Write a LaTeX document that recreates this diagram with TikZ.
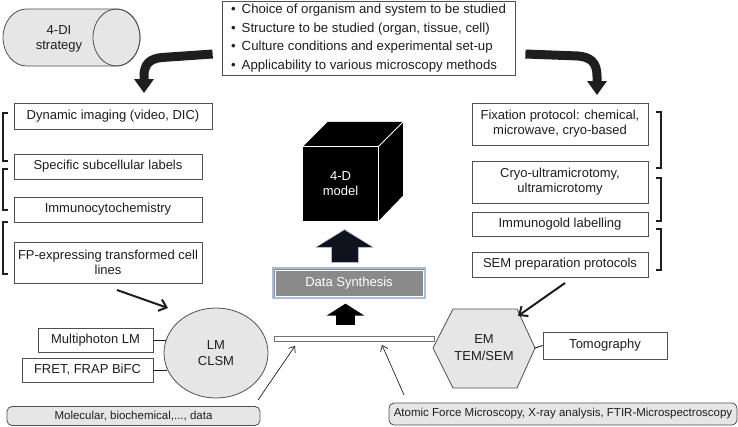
\documentclass[tikz,border=0pt]{standalone}
\usepackage{fontspec}
\setmainfont{Liberation Sans}
\usetikzlibrary{shapes.geometric,arrows.meta,calc}
\definecolor{edge}{HTML}{505050}
\definecolor{lgray}{HTML}{E6E6E6}
\definecolor{txt}{HTML}{1E1E1E}
\definecolor{dsfill}{HTML}{8A8A8A}
\definecolor{dsedge}{HTML}{A9BED6}
\definecolor{navy}{HTML}{10121E}
\begin{document}
\begin{tikzpicture}[x=1pt,y=-1pt,
  every node/.style={font=\fontsize{13}{15}\selectfont, text=txt, inner sep=0pt, align=center},
  box/.style={draw=edge, line width=0.8pt, fill=white, rectangle},
  rbox/.style={draw=edge, line width=0.8pt, fill=lgray, rounded corners=5pt, font=\fontsize{11.5}{14}\selectfont},
  brk/.style={draw=txt, line width=1.1pt},
  bigarrow/.style={draw=txt, line width=9pt, -{Triangle[width=19pt,length=14pt]}},
  medarrow/.style={draw=txt, line width=2pt, -{Straight Barb[length=7pt,width=12pt]}},
  thinarrow/.style={draw=txt, line width=0.7pt, -{Straight Barb[length=5pt,width=8pt]}},
  link/.style={draw=txt, line width=1pt}
]
\useasboundingbox (0,0) rectangle (738,426);

% cylinder "4-DI strategy"
\filldraw[fill=lgray, draw=edge, line width=0.8pt] (26.5,9) -- (116.5,9)
  .. controls (129.5,9) and (140,21.76) .. (140,37.5)
  .. controls (140,53.24) and (129.5,66) .. (116.5,66) -- (26.5,66)
  .. controls (13.52,66) and (3,53.24) .. (3,37.5)
  .. controls (3,21.76) and (13.52,9) .. (26.5,9) -- cycle;
\draw[edge, line width=0.8pt] (116.5,37.5) ellipse [x radius=23.5, y radius=28.5];
\node (strat) at (59,39) {4-DI\\strategy};

% top box
\node[box, minimum width=293pt, minimum height=74pt] (top) at (368.5,38)
  {\fontsize{13.2}{18.5}\selectfont\begin{tabular}{@{}l@{\hspace{6pt}}l@{}}
  \textbullet & Choice of organism and system to be studied\\
  \textbullet & Structure to be studied (organ, tissue, cell)\\
  \textbullet & Culture conditions and experimental set-up\\
  \textbullet & Applicability to various microscopy methods
  \end{tabular}};

% curved arrows
\draw[bigarrow] ([shift={(-9,16)}]top.west) -- (162,57.5)
  .. controls (150,58.5) and (144,64) .. (144,76) -- (144,93);
\draw[bigarrow] ([shift={(10,16)}]top.east) -- (578,56)
  .. controls (590,57) and (597,62) .. (597,76) -- (597,95);

% left column
\node[box, minimum width=198pt, minimum height=26pt] (dyn) at (113,116) {Dynamic imaging (video, DIC)};
\node[box, minimum width=188pt, minimum height=25pt] (spec) at (108,166.5) {Specific subcellular labels};
\node[box, minimum width=188pt, minimum height=25pt] (immu) at (108,209.5) {Immunocytochemistry};
\node[box, minimum width=188pt, minimum height=41pt] (fp) at (108,262.5) {FP-expressing transformed cell\\lines};
\draw[brk] (7.5,113) -- (3,113) -- (3,161) -- (7.5,161);
\draw[brk] (7.5,169) -- (3,169) -- (3,210) -- (7.5,210);
\draw[brk] (7.5,222) -- (3,222) -- (3,274) -- (7.5,274);

% right column
\node[box, minimum width=176pt, minimum height=42pt] (fix) at (560,124) {Fixation protocol: chemical,\\microwave, cryo-based};
\node[box, minimum width=176pt, minimum height=42pt] (cryo) at (560,182) {Cryo-ultramicrotomy,\\ultramicrotomy};
\node[box, minimum width=176pt, minimum height=24pt] (gold) at (560,224) {Immunogold labelling};
\node[box, minimum width=176pt, minimum height=25pt] (semp) at (560,264.5) {SEM preparation protocols};
\draw[brk] (656,112) -- (661,112) -- (661,168) -- (656,168);
\draw[brk] (656,178) -- (661,178) -- (661,221) -- (656,221);
\draw[brk] (656,229) -- (661,229) -- (661,270) -- (656,270);

% cube
\node[fill=black, text=white, minimum width=75pt, minimum height=74pt] (cube) at (340.5,184) {4-D\\model};
\fill[black] (cube.north west) -- ++(25,-25) -- ++(75,0) -- ++(0,74) -- (cube.south east) -- (cube.north east) -- cycle;
\draw[white, line width=0.8pt] (cube.north west) -- (cube.north east) -- (cube.south east);
\draw[white, line width=0.8pt] (cube.north east) -- ++(25,-25);

% data synthesis
\node[draw=dsedge, line width=1.2pt, fill=dsfill, text=white, minimum width=152pt, minimum height=30pt] (ds) at (349,283) {Data Synthesis};
\draw[white, line width=0.8pt] ([shift={(2.5,2.5)}]ds.north west) rectangle ([shift={(-2.5,-2.5)}]ds.south east);

% bar
\node[draw=edge!80, line width=0.7pt, fill=white, minimum width=160pt, minimum height=5pt] (bar) at (354,338.5) {};

% block arrows
\draw[draw=dsedge, line width=28pt, -{Triangle[width=58pt,length=18.5pt]}, shorten <=4pt, shorten >=7.8pt] ([xshift=-4.5pt]ds.north) -- ([xshift=-4.5pt]ds.north |- cube.south);
\draw[draw=navy, line width=26pt, -{Triangle[width=55pt,length=17pt]}, shorten <=5pt, shorten >=9pt] ([xshift=-4.5pt]ds.north) -- ([xshift=-4.5pt]ds.north |- cube.south);
\draw[draw=black, line width=19pt, -{Triangle[width=37pt,length=12pt]}, shorten <=11pt, shorten >=5pt] ([xshift=-3.5pt]ds.south |- bar.north) -- ([xshift=-3.5pt]ds.south);

% LM ellipse and its boxes
\node[ellipse, draw=edge, line width=0.8pt, fill=lgray, minimum width=104pt, minimum height=90pt, font=\fontsize{13}{16}\selectfont] (lm) at (216,353) {LM\\CLSM};
\node[box, minimum width=115pt, minimum height=24pt] (mp) at (95.5,340) {Multiphoton LM};
\node[box, minimum width=131pt, minimum height=24pt] (fret) at (87.5,370) {FRET, FRAP BiFC};
\draw[link] (mp.east) -- (mp.east -| lm.165);
\draw[link] (fret.east) -- (fret.east -| lm.198);

% EM hexagon
\filldraw[fill=lgray, draw=edge, line width=0.8pt] (433,348) -- (453,309) -- (517,309) -- (535,348) -- (517,388) -- (453,388) -- cycle;
\node[font=\fontsize{13}{17}\selectfont] (em) at (484,348) {EM\\TEM/SEM};
\coordinate (emr) at (535,348);
\node[box, minimum width=124pt, minimum height=27pt] (tomo) at (605,345.5) {Tomography};
\draw[link] (emr) -- (tomo.west);

% bottom boxes
\node[rbox, minimum width=253pt, minimum height=19pt] (mol) at (133.5,416) {Molecular, biochemical,..., data};
\node[rbox, minimum width=348pt, minimum height=22pt] (afm) at (563,414) {Atomic Force Microscopy, X-ray analysis, FTIR-Microspectroscopy};

% arrows
\coordinate (fpa) at (117,290);
\coordinate (lma) at (168,308);
\draw[medarrow] (fpa) -- (lma);
\coordinate (sema) at (565,283);
\coordinate (ema) at (518,316);
\draw[medarrow] (sema) -- (ema);
\coordinate (mola) at (258,400);
\coordinate (bara) at (295,346);
\draw[thinarrow] (mola) -- (bara);
\coordinate (afma) at (404,395);
\coordinate (barb) at (382,345);
\draw[thinarrow] (afma) -- (barb);
\end{tikzpicture}
\end{document}
